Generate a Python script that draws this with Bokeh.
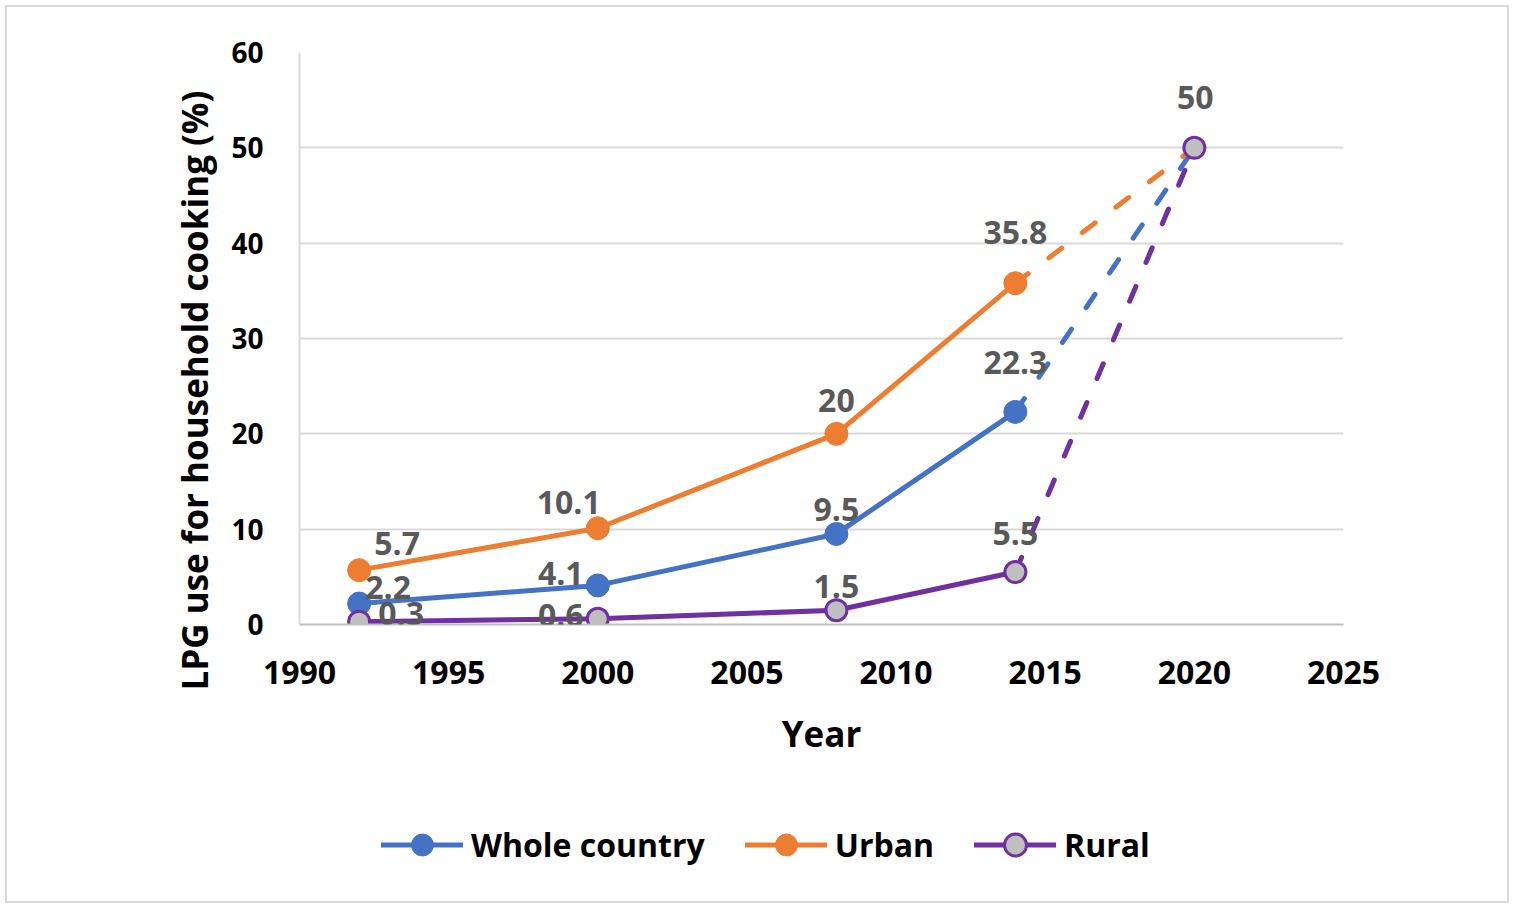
from bokeh.plotting import figure
from bokeh.layouts import column
from bokeh.models import (Range1d, FixedTicker, ColumnDataSource, LabelSet, Title,
                          Legend, LegendItem)
from bokeh.embed import file_html
from bokeh.resources import INLINE
from bokeh.core.properties import value

# ---------------- data ----------------
years = [1992, 2000, 2008, 2014]
whole_country = [2.2, 4.1, 9.5, 22.3]
urban = [5.7, 10.1, 20.0, 35.8]
rural = [0.3, 0.6, 1.5, 5.5]
target_year = 2020
target_value = 50
series_names = ["Whole country", "Urban", "Rural"]
x_ticks = [1990, 1995, 2000, 2005, 2010, 2015, 2020, 2025]
y_ticks = [0, 10, 20, 30, 40, 50, 60]
x_title = "Year"
y_title = "LPG use for household cooking (%)"

# ---------------- styles ----------------
BLUE, ORANGE, PURPLE, GRAY = "#4472C4", "#ED7D31", "#7030A0", "#BFBFBF"
FONT = "Open Sans"
LBL_COLOR = "#595959"
# label offsets in px (x right, y up; baseline of text relative to point)
wc_dx, wc_dy = [29, -37, 0, 0], [5, 0, 13, 38]
ur_dx, ur_dy = [38, -29, 0, 0], [15, 14, 22, 39]
ru_dx, ru_dy = [42, -37, 0, 0], [-3, -8, 12, 27]
tg_dx, tg_dy = [1], [39]

W = 1514
H_MAIN, H_LEG = 772, 136
LW = 5
series = [
    (series_names[0], whole_country, BLUE, BLUE, 1, 23),
    (series_names[1], urban, ORANGE, ORANGE, 1, 23),
    (series_names[2], rural, PURPLE, GRAY, 3, 21),
]

p = figure(width=W, height=H_MAIN, output_backend="svg", toolbar_location=None,
           x_range=Range1d(1990, 2025), y_range=Range1d(0, 60), title=None,
           min_border_left=299, min_border_right=W - 1343, min_border_top=52,
           min_border_bottom=H_MAIN - 624)
p.background_fill_color = "white"
p.border_fill_alpha = 0
p.outline_line_color = None

p.xgrid.grid_line_color = None
p.ygrid.grid_line_color = "#d9d9d9"
p.ygrid.grid_line_width = 2
p.ygrid.ticker = FixedTicker(ticks=y_ticks)

p.xaxis.ticker = FixedTicker(ticks=x_ticks)
p.yaxis.ticker = FixedTicker(ticks=y_ticks)
for ax in (p.xaxis[0], p.yaxis[0]):
    ax.major_tick_line_color = None
    ax.minor_tick_line_color = None
    ax.major_tick_out = 0
    ax.major_tick_in = 0
    ax.major_label_text_font = FONT
    ax.major_label_text_font_style = "bold"
    ax.major_label_text_color = "black"
    ax.axis_line_width = 2
    ax.axis_label_text_font = FONT
    ax.axis_label_text_font_style = "bold"
    ax.axis_label_text_font_size = "35px"
    ax.axis_label_text_color = "black"
p.xaxis.axis_line_color = "#bfbfbf"
p.yaxis.axis_line_color = "#d9d9d9"
p.xaxis.major_label_text_font_size = "32px"
p.yaxis.major_label_text_font_size = "28px"
p.xaxis.major_label_standoff = 36
p.yaxis.major_label_standoff = 36
p.xaxis.axis_label = x_title
p.xaxis.axis_label_standoff = 23

# y-axis title, starting below the frame bottom like the reference
p.add_layout(Title(text=y_title, align="left", offset=-66, standoff=22,
                   text_font=FONT, text_font_style="bold", text_font_size="35px",
                   text_color="black"), "left")

for name, vals, col, fill, mlw, msize in series:
    p.line(years, vals, line_color=col, line_width=LW, line_join="round", line_cap="round")
for name, vals, col, fill, mlw, msize in series:
    p.line([years[-1], target_year], [vals[-1], target_value], line_color=col,
           line_width=LW, line_dash="16 26", line_cap="round")
for name, vals, col, fill, mlw, msize in series:
    p.scatter(years, vals, size=msize, marker="circle", fill_color=fill,
              line_color=col, line_width=mlw)
p.scatter([target_year], [target_value], size=21, marker="circle", fill_color=GRAY,
          line_color=PURPLE, line_width=3)

def add_labels(xs, ys, dx, dy):
    src = ColumnDataSource(dict(x=xs, y=ys, t=[("%g" % v) for v in ys], dx=dx, dy=dy))
    p.add_layout(LabelSet(x="x", y="y", text="t", x_offset="dx", y_offset="dy", source=src,
                          text_font=value(FONT), text_font_style="bold",
                          text_font_size="32px", text_color=LBL_COLOR,
                          text_align="center", text_baseline="alphabetic"))

add_labels(years, whole_country, wc_dx, wc_dy)
add_labels(years, urban, ur_dx, ur_dy)
add_labels(years, rural, ru_dx, ru_dy)
add_labels([target_year], [target_value], tg_dx, tg_dy)

# ---------------- legend strip (same series; data lie outside its view) ----------------
lf = figure(width=W, height=H_LEG, output_backend="svg", toolbar_location=None,
            x_range=Range1d(0, 1), y_range=Range1d(0, 1), title=None,
            x_axis_location=None, y_axis_location=None, min_border=0)
lf.grid.grid_line_color = None
lf.outline_line_color = None
lf.background_fill_alpha = 0
lf.border_fill_alpha = 0
items = []
for name, vals, col, fill, mlw, msize in series:
    lr = lf.line(years, vals, line_color=col, line_width=LW, line_cap="round")
    sr = lf.scatter(years, vals, size=msize, marker="circle", fill_color=fill,
                    line_color=col, line_width=mlw)
    items.append(LegendItem(label=name, renderers=[lr, sr]))
legend = Legend(items=items, orientation="horizontal", location=(82, 36),
                glyph_width=82, glyph_height=55, label_standoff=8, spacing=40,
                padding=0, margin=0, border_line_color=None, background_fill_alpha=0,
                label_text_font=FONT, label_text_font_style="bold",
                label_text_font_size="32px", label_text_color="black")
lf.add_layout(legend)

layout = column(p, lf, spacing=0)
layout.styles = {"outline": "2px solid #d9d9d9", "outline-offset": "-7px"}

open("out.html", "w").write(file_html(layout, INLINE))
